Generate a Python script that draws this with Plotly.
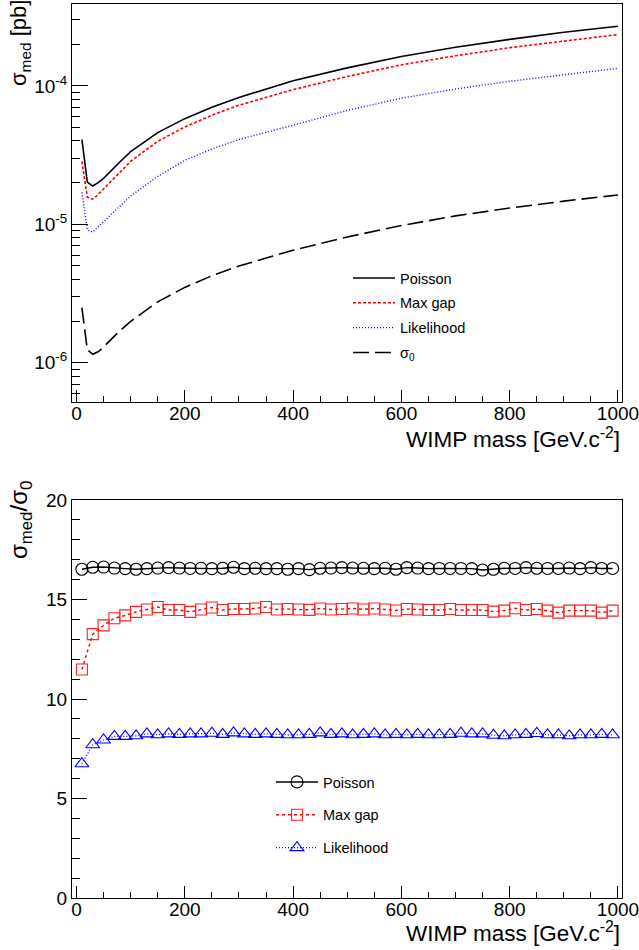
import plotly.graph_objects as go

# ---------------- data: top panel (sigma_med vs WIMP mass) ----------------
mass_top = [10, 20, 30, 40, 50, 60, 80, 100, 150, 200, 250, 300, 400, 500, 600, 700, 800, 900, 1000]
poisson_top = [4.1e-5, 2.02e-5, 1.89e-5, 2.0e-5, 2.15e-5, 2.36e-5, 2.82e-5, 3.35e-5, 4.6e-5, 5.8e-5,
               7.0e-5, 8.25e-5, 1.09e-4, 1.35e-4, 1.63e-4, 1.9e-4, 2.17e-4, 2.44e-4, 2.7e-4]
maxgap_top = [2.85e-5, 1.57e-5, 1.52e-5, 1.64e-5, 1.8e-5, 1.98e-5, 2.38e-5, 2.85e-5, 3.98e-5, 5.05e-5,
              6.15e-5, 7.25e-5, 9.4e-5, 1.17e-4, 1.42e-4, 1.65e-4, 1.89e-4, 2.12e-4, 2.35e-4]
likelihood_top = [1.7e-5, 9.1e-6, 8.8e-6, 9.5e-6, 1.04e-5, 1.14e-5, 1.36e-5, 1.6e-5, 2.22e-5, 2.9e-5,
                  3.5e-5, 4.1e-5, 5.2e-5, 6.65e-5, 8.15e-5, 9.5e-5, 1.08e-4, 1.21e-4, 1.34e-4]
sigma0_top = [2.5e-6, 1.24e-6, 1.15e-6, 1.2e-6, 1.3e-6, 1.42e-6, 1.7e-6, 1.99e-6, 2.75e-6, 3.5e-6,
              4.25e-6, 5.0e-6, 6.5e-6, 8.1e-6, 9.8e-6, 1.15e-5, 1.31e-5, 1.47e-5, 1.63e-5]

# ---------------- data: bottom panel (sigma_med / sigma_0) ----------------
mass_bot = list(range(10, 1000, 20))
poisson_ratio = [16.52, 16.62, 16.63, 16.58, 16.55, 16.52, 16.55, 16.58, 16.6, 16.58,
                 16.56, 16.57, 16.55, 16.57, 16.62, 16.55, 16.57, 16.55, 16.55, 16.52,
                 16.55, 16.5, 16.57, 16.58, 16.6, 16.58, 16.57, 16.55, 16.57, 16.52,
                 16.6, 16.58, 16.55, 16.56, 16.56, 16.56, 16.55, 16.48, 16.52, 16.57,
                 16.56, 16.6, 16.57, 16.56, 16.56, 16.58, 16.55, 16.6, 16.56, 16.56]
maxgap_ratio = [11.48, 13.26, 13.7, 14.06, 14.2, 14.38, 14.5, 14.62, 14.47, 14.47,
                14.38, 14.5, 14.6, 14.47, 14.52, 14.52, 14.55, 14.62, 14.5, 14.52,
                14.5, 14.48, 14.55, 14.5, 14.52, 14.55, 14.5, 14.55, 14.5, 14.45,
                14.52, 14.5, 14.47, 14.47, 14.52, 14.47, 14.47, 14.47, 14.39, 14.44,
                14.56, 14.47, 14.52, 14.44, 14.34, 14.44, 14.44, 14.44, 14.34, 14.44]
likelihood_ratio = [6.75, 7.7, 7.94, 8.12, 8.12, 8.15, 8.25, 8.2, 8.25, 8.22,
                    8.25, 8.25, 8.28, 8.22, 8.3, 8.25, 8.22, 8.25, 8.22, 8.2,
                    8.2, 8.22, 8.3, 8.22, 8.25, 8.2, 8.22, 8.25, 8.2, 8.22,
                    8.2, 8.22, 8.2, 8.2, 8.22, 8.28, 8.25, 8.25, 8.18, 8.15,
                    8.2, 8.22, 8.27, 8.2, 8.2, 8.15, 8.2, 8.2, 8.22, 8.2]

x_ticks = [0, 200, 400, 600, 800, 1000]
x_minor = [v for v in range(50, 1001, 50) if v % 200 != 0]
y_top_ticks = [1e-6, 1e-5, 1e-4]
y_top_text = ["10<sup>-6</sup>", "10<sup>-5</sup>", "10<sup>-4</sup>"]
y_top_minor = [m * 10.0 ** e for e in (-7, -6, -5, -4) for m in range(2, 10)]
y_bot_ticks = [0, 5, 10, 15, 20]
y_bot_minor = [v for v in range(1, 20) if v % 5 != 0]

FONT = "Liberation Sans, Arial, Helvetica, sans-serif"
W, H = 639, 950

fig = go.Figure()

# top panel
fig.add_trace(go.Scatter(x=mass_top, y=poisson_top, mode="lines", name="Poisson",
                         line=dict(color="black", width=1.6), legendgroup="a", legend="legend"))
fig.add_trace(go.Scatter(x=mass_top, y=maxgap_top, mode="lines", name="Max gap",
                         line=dict(color="#ff0000", width=1.6, dash="3px,2px"), legendgroup="b", legend="legend"))
fig.add_trace(go.Scatter(x=mass_top, y=likelihood_top, mode="lines", name="Likelihood",
                         line=dict(color="#0000ff", width=1.4, dash="1px,2px"), legendgroup="c", legend="legend"))
fig.add_trace(go.Scatter(x=mass_top, y=sigma0_top, mode="lines", name="σ<sub>0</sub>",
                         line=dict(color="black", width=1.6, dash="16px,6px"), legendgroup="d", legend="legend"))

# bottom panel
fig.add_trace(go.Scatter(x=mass_bot, y=poisson_ratio, mode="lines+markers", name="Poisson",
                         xaxis="x2", yaxis="y2", legend="legend2", legendgroup="e",
                         line=dict(color="black", width=1.4),
                         marker=dict(symbol="circle-open", size=12, color="black", line=dict(width=1.1))))
fig.add_trace(go.Scatter(x=mass_bot, y=maxgap_ratio, mode="lines+markers", name="Max gap",
                         xaxis="x2", yaxis="y2", legend="legend2", legendgroup="f",
                         line=dict(color="#ff0000", width=1.4, dash="3px,3px"),
                         marker=dict(symbol="square-open", size=11, color="#ff2020", line=dict(width=1.1))))
fig.add_trace(go.Scatter(x=mass_bot, y=likelihood_ratio, mode="lines+markers", name="Likelihood",
                         xaxis="x2", yaxis="y2", legend="legend2", legendgroup="g",
                         line=dict(color="#0000ff", width=1.2, dash="1px,2px"),
                         marker=dict(symbol="triangle-up-open", size=12, color="#0000ff", line=dict(width=1.1))))

xdom = [72 / W, 622 / W]
axis_common = dict(showline=True, linecolor="black", linewidth=1, mirror=True, showgrid=False,
                   zeroline=False, ticks="inside", tickcolor="black", automargin=False,
                   ticklabeloverflow="allow")
yfont = dict(family=FONT, size=19, color="black")
xfont = dict(family=FONT, size=19, color="black")

fig.update_layout(
    width=W, height=H, margin=dict(l=0, r=0, t=0, b=0, autoexpand=False),
    paper_bgcolor="white", plot_bgcolor="white",
    font=dict(family=FONT, color="black"),
    xaxis=dict(domain=xdom, anchor="y", range=[-8.3, 1007.4], tickvals=x_ticks, ticklen=12,
               ticklabelstandoff=-6, tickfont=xfont,
               minor=dict(tickvals=x_minor, ticks="inside", ticklen=6, tickcolor="black"), **axis_common),
    yaxis=dict(domain=[1 - 402 / H, 1 - 3.7 / H], anchor="x", type="log", range=[-6.284, -3.406],
               tickvals=y_top_ticks, ticktext=y_top_text, ticklen=16, tickfont=yfont,
               minor=dict(tickvals=y_top_minor, ticks="inside", ticklen=8, tickcolor="black"), **axis_common),
    xaxis2=dict(domain=xdom, anchor="y2", range=[-8.3, 1007.4], tickvals=x_ticks, ticklen=12,
                ticklabelstandoff=-6, tickfont=xfont,
                minor=dict(tickvals=x_minor, ticks="inside", ticklen=6, tickcolor="black"), **axis_common),
    yaxis2=dict(domain=[1 - 898 / H, 1 - 500 / H], anchor="x2", range=[0, 20],
                tickvals=y_bot_ticks, ticklen=15, tickfont=yfont,
                minor=dict(tickvals=y_bot_minor, ticks="inside", ticklen=8, tickcolor="black"), **axis_common),
    legend=dict(x=348 / W, y=1 - 262 / H, xanchor="left", yanchor="top", bgcolor="rgba(0,0,0,0)",
                itemwidth=42,
                font=dict(family=FONT, size=14.5, color="black"), traceorder="grouped", tracegroupgap=3),
    legend2=dict(x=271 / W, y=1 - 766 / H, xanchor="left", yanchor="top", bgcolor="rgba(0,0,0,0)",
                 itemwidth=42,
                 font=dict(family=FONT, size=14.5, color="black"), traceorder="grouped", tracegroupgap=11),
    showlegend=True,
    annotations=[
        dict(text="WIMP mass [GeV.c<sup>-2</sup>]", xref="paper", yref="paper", x=622 / W, y=1 - 438 / H,
             xanchor="right", yanchor="middle", showarrow=False, font=dict(family=FONT, size=22.5, color="black")),
        dict(text="WIMP mass [GeV.c<sup>-2</sup>]", xref="paper", yref="paper", x=622 / W, y=1 - 932 / H,
             xanchor="right", yanchor="middle", showarrow=False, font=dict(family=FONT, size=22.5, color="black")),
        dict(text="σ<sub>med</sub> [pb]", xref="paper", yref="paper", x=20 / W, y=1 - 43 / H, textangle=-90,
             xanchor="center", yanchor="middle", showarrow=False, font=dict(family=FONT, size=22, color="black")),
        dict(text="σ<sub>med</sub>/σ<sub>0</sub>", xref="paper", yref="paper", x=20 / W, y=1 - 520 / H, textangle=-90,
             xanchor="center", yanchor="middle", showarrow=False, font=dict(family=FONT, size=24, color="black")),
    ],
)

fig.write_html("out.html", config={"displayModeBar": False},
               post_script="document.body.style.margin='0px';document.body.style.overflow='hidden';")
